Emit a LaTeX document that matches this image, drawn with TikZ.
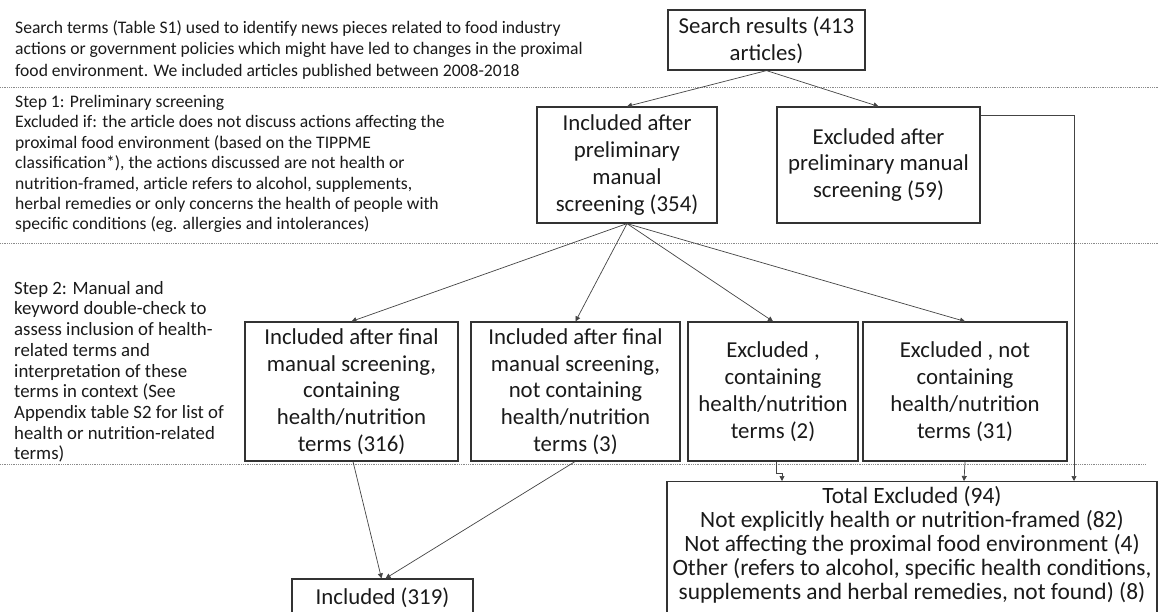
\documentclass[tikz,border=0pt]{standalone}
\usepackage{fontspec}
\setmainfont{Carlito}
\usetikzlibrary{arrows.meta}
\definecolor{boxc}{HTML}{333333}
\definecolor{txtc}{HTML}{1A1A1A}
\definecolor{linec}{HTML}{444444}
\definecolor{sepc}{HTML}{8A8A8A}
\begin{document}
\begin{tikzpicture}[x=1pt,y=-1pt,
  box/.style={draw=boxc, line width=1.2pt, align=center, inner sep=0pt, text=txtc,
    font=\fontsize{22.8}{26.8}\selectfont},
  totbox/.style={draw=boxc, line width=1.2pt, inner sep=0pt},
  tottxt/.style={align=center, inner sep=0pt, text=txtc, font=\fontsize{23.4}{23.9}\selectfont},
  lefttxt/.style={align=left, anchor=north west, inner sep=0pt, text=txtc,
    font=\fontsize{17.6}{20.4}\selectfont},
  conn/.style={draw=linec, line width=0.7pt, -{Triangle[length=5pt,width=5pt]}},
  sepline/.style={draw=sepc, line width=0.8pt, densely dotted}]
\useasboundingbox (0,0) rectangle (1158,611);
\fill[white] (0,0) rectangle (1158,611);

% separators
\coordinate (s1a) at (0,87);   \coordinate (s1b) at (1158,87);
\coordinate (s2a) at (0,243);  \coordinate (s2b) at (1158,243);
\coordinate (s3a) at (0,464);  \coordinate (s3b) at (1145,464);
\draw[sepline] (s1a) -- (s1b);
\draw[sepline] (s2a) -- (s2b);
\draw[sepline] (s3a) -- (s3b);

% left texts
\node[lefttxt, font=\fontsize{17.6}{21.8}\selectfont] (t0) at (15,20) {Search terms (Table S1) used to identify news pieces related to food industry\\
actions or government policies which might have led to changes in the proximal\\
food environment. We included articles published between 2008-2018};
\node[lefttxt] (t1) at (15,95) {Step 1: Preliminary screening\\
Excluded if: the article does not discuss actions affecting the\\
proximal food environment (based on the TIPPME\\
classification*), the actions discussed are not health or\\
nutrition-framed, article refers to alcohol, supplements,\\
herbal remedies or only concerns the health of people with\\
specific conditions (eg. allergies and intolerances)};
\node[lefttxt, font=\fontsize{18.8}{20.7}\selectfont] (t2) at (14,281) {Step 2: Manual and\\
keyword double-check to\\
assess inclusion of health-\\
related terms and\\
interpretation of these\\
terms in context (See\\
Appendix table S2 for list of\\
health or nutrition-related\\
terms)};

% boxes
\node[box, minimum width=197pt, minimum height=60pt] (search) at (766.5,40) {Search results (413\\articles)};
\node[box, minimum width=180pt, minimum height=116pt] (inclp) at (627,165) {Included after\\preliminary\\manual\\screening (354)};
\node[box, minimum width=203pt, minimum height=116pt] (exclp) at (878.5,165) {Excluded after\\preliminary manual\\screening (59)};

\node[box, minimum width=213pt, minimum height=139pt] (b1) at (351.5,391.5) {Included after final\\manual screening,\\containing\\health/nutrition\\terms (316)};
\node[box, minimum width=209pt, minimum height=139pt] (b2) at (575.5,391.5) {Included after final\\manual screening,\\not containing\\health/nutrition\\terms (3)};
\node[box, minimum width=170pt, minimum height=139pt] (b3) at (773,391.5) {Excluded ,\\containing\\health/nutrition\\terms (2)};
\node[box, minimum width=204pt, minimum height=139pt] (b4) at (965,391.5) {Excluded , not\\containing\\health/nutrition\\terms (31)};

\node[box, minimum width=181pt, minimum height=38pt] (incl) at (382.5,598) {Included (319)};

\node[totbox, minimum width=490pt, minimum height=160pt, anchor=north] (total) at (912,481) {};
\node[tottxt] (totaltxt) at (912,545) {Total Excluded (94)\\
Not explicitly health or nutrition-framed (82)\\
Not affecting the proximal food environment (4)\\
Other (refers to alcohol, specific health conditions,\\
supplements and herbal remedies, not found) (8)};

% connectors
\draw[conn] (search.south) -- (inclp.north);
\draw[conn] (search.south) -- (exclp.north);
\draw[conn] (inclp.south) -- (b1.north);
\draw[conn] (inclp.south) -- (b2.north);
\draw[conn] (inclp.south) -- (b3.north);
\draw[conn] (inclp.south) -- (b4.north);
\draw[conn] ([yshift=-9pt]exclp.north east) -| ([xshift=162pt]total.north);
\draw[conn] ([xshift=3pt]b3.south) -- ++(0,12) -| ([xshift=-130pt]total.north);
\draw[conn] (b4.south) -- ([xshift=52pt]total.north);
\draw[conn] ([xshift=1.5pt]b1.south) -- ([xshift=-1pt]incl.north);
\draw[conn] ([xshift=-0.5pt]b2.south) -- ([xshift=3pt]incl.north);
\end{tikzpicture}
\end{document}
